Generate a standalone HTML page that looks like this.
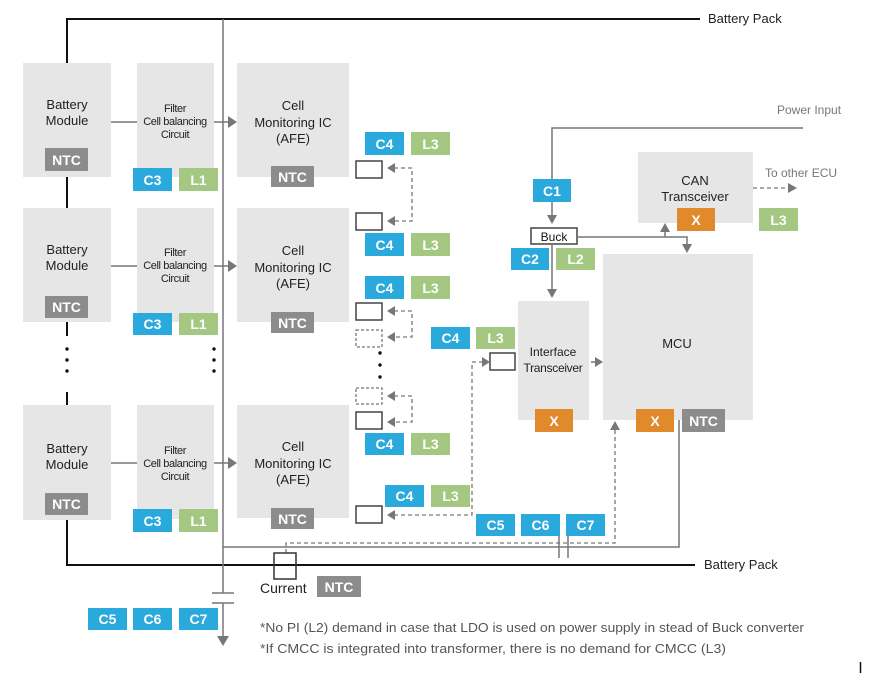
<!DOCTYPE html>
<html><head><meta charset="utf-8"><style>
html,body{margin:0;padding:0;background:#fff;}
svg{display:block;}
text{font-family:"Liberation Sans",sans-serif;}
.lb{font-weight:bold;font-size:14px;fill:#fff;text-anchor:middle;}
.bx{fill:#e6e6e6;}
.t{font-size:13px;fill:#222;text-anchor:middle;}
.f{font-size:11px;fill:#222;text-anchor:middle;letter-spacing:-0.4px;}
.c{fill:#2aa9dd;} .l{fill:#a4c881;} .n{fill:#8c8c8c;} .x{fill:#e08a2b;}
.g{stroke:#777;stroke-width:1.5;fill:none;}
.d{stroke:#777;stroke-width:1.3;fill:none;stroke-dasharray:4,3;}
.k{stroke:#111;stroke-width:2;fill:none;}
.sb{fill:#fff;stroke:#444;stroke-width:1.5;}
.sd{fill:#fff;stroke:#777;stroke-width:1.3;stroke-dasharray:3,2;}
.ah{fill:#777;}
</style></head><body>
<svg width="869" height="673" viewBox="0 0 869 673" xmlns="http://www.w3.org/2000/svg">
<!-- black battery pack lines -->
<polyline class="k" points="67,63 67,19 700,19"/>
<line class="k" x1="67" y1="177" x2="67" y2="208"/>
<line class="k" x1="67" y1="322" x2="67" y2="336"/>
<line class="k" x1="67" y1="392" x2="67" y2="405"/>
<polyline class="k" points="67,520 67,565 695,565"/>
<text x="708" y="23" font-size="13" fill="#222">Battery Pack</text>
<text x="704" y="569" font-size="13" fill="#222">Battery Pack</text>
<!-- dots -->
<g fill="#111"><circle cx="67" cy="349" r="1.7"/><circle cx="67" cy="360" r="1.7"/><circle cx="67" cy="371" r="1.7"/>
<circle cx="214" cy="349" r="1.7"/><circle cx="214" cy="360" r="1.7"/><circle cx="214" cy="371" r="1.7"/>
<circle cx="380" cy="353" r="1.7"/><circle cx="380" cy="365" r="1.7"/><circle cx="380" cy="377" r="1.7"/></g>
<!-- gray vertical -->
<line class="g" x1="223" y1="19" x2="223" y2="593"/>
<line class="g" x1="212" y1="593" x2="234" y2="593"/>
<line class="g" x1="212" y1="603" x2="234" y2="603"/>
<line class="g" x1="223" y1="603" x2="223" y2="637"/>
<polygon class="ah" points="217,636 229,636 223,646"/>
<!-- bottom gray line -->
<polyline class="g" points="223,547 679,547 679,420"/>
<line class="g" x1="559" y1="536" x2="559" y2="558"/>
<line class="g" x1="568" y1="536" x2="568" y2="558"/>
<polyline class="d" points="286,553 286,543 615,543 615,428"/>
<polygon class="ah" points="610,430 620,430 615,421"/>

<!-- rows -->
<g id="r1">
<rect class="bx" x="23" y="63" width="88" height="114"/>
<text class="t" x="67" y="109">Battery</text><text class="t" x="67" y="125">Module</text>
<rect class="n" x="45" y="148" width="43" height="23"/><text class="lb" x="66.5" y="165">NTC</text>
<line class="g" x1="111" y1="122" x2="137" y2="122"/>
<rect class="bx" x="137" y="63" width="77" height="114"/>
<text class="f" x="175" y="112">Filter</text><text class="f" x="175" y="125">Cell balancing</text><text class="f" x="175" y="138">Circuit</text>
<line class="g" x1="214" y1="122" x2="229" y2="122"/><polygon class="ah" points="228,116 228,128 237,122"/>
<rect class="c" x="133" y="168" width="39" height="23"/><text class="lb" x="152.5" y="185">C3</text>
<rect class="l" x="179" y="168" width="39" height="23"/><text class="lb" x="198.5" y="185">L1</text>
<rect class="bx" x="237" y="63" width="112" height="114"/>
<text class="t" x="293" y="110">Cell</text><text class="t" x="293" y="127">Monitoring IC</text><text class="t" x="293" y="143">(AFE)</text>
<rect class="n" x="271" y="166" width="43" height="21"/><text class="lb" x="292.5" y="182">NTC</text>
</g>
<g id="r2">
<rect class="bx" x="23" y="208" width="88" height="114"/>
<text class="t" x="67" y="254">Battery</text><text class="t" x="67" y="270">Module</text>
<rect class="n" x="45" y="296" width="43" height="22"/><text class="lb" x="66.5" y="312">NTC</text>
<line class="g" x1="111" y1="266" x2="137" y2="266"/>
<rect class="bx" x="137" y="208" width="77" height="114"/>
<text class="f" x="175" y="256">Filter</text><text class="f" x="175" y="269">Cell balancing</text><text class="f" x="175" y="282">Circuit</text>
<line class="g" x1="214" y1="266" x2="229" y2="266"/><polygon class="ah" points="228,260 228,272 237,266"/>
<rect class="c" x="133" y="313" width="39" height="22"/><text class="lb" x="152.5" y="329">C3</text>
<rect class="l" x="179" y="313" width="39" height="22"/><text class="lb" x="198.5" y="329">L1</text>
<rect class="bx" x="237" y="208" width="112" height="114"/>
<text class="t" x="293" y="255">Cell</text><text class="t" x="293" y="272">Monitoring IC</text><text class="t" x="293" y="288">(AFE)</text>
<rect class="n" x="271" y="312" width="43" height="21"/><text class="lb" x="292.5" y="328">NTC</text>
</g>
<g id="r3">
<rect class="bx" x="23" y="405" width="88" height="115"/>
<text class="t" x="67" y="453">Battery</text><text class="t" x="67" y="469">Module</text>
<rect class="n" x="45" y="493" width="43" height="22"/><text class="lb" x="66.5" y="509">NTC</text>
<line class="g" x1="111" y1="463" x2="137" y2="463"/>
<rect class="bx" x="137" y="405" width="77" height="114"/>
<text class="f" x="175" y="454">Filter</text><text class="f" x="175" y="467">Cell balancing</text><text class="f" x="175" y="480">Circuit</text>
<line class="g" x1="214" y1="463" x2="229" y2="463"/><polygon class="ah" points="228,457 228,469 237,463"/>
<rect class="c" x="133" y="509" width="39" height="23"/><text class="lb" x="152.5" y="526">C3</text>
<rect class="l" x="179" y="509" width="39" height="23"/><text class="lb" x="198.5" y="526">L1</text>
<rect class="bx" x="237" y="405" width="112" height="113"/>
<text class="t" x="293" y="451">Cell</text><text class="t" x="293" y="468">Monitoring IC</text><text class="t" x="293" y="484">(AFE)</text>
<rect class="n" x="271" y="508" width="43" height="21"/><text class="lb" x="292.5" y="524">NTC</text>
</g>

<!-- C4/L3 pairs -->
<rect class="c" x="365" y="132" width="39" height="23"/><text class="lb" x="384.5" y="149">C4</text>
<rect class="l" x="411" y="132" width="39" height="23"/><text class="lb" x="430.5" y="149">L3</text>
<rect class="c" x="365" y="233" width="39" height="23"/><text class="lb" x="384.5" y="250">C4</text>
<rect class="l" x="411" y="233" width="39" height="23"/><text class="lb" x="430.5" y="250">L3</text>
<rect class="c" x="365" y="276" width="39" height="23"/><text class="lb" x="384.5" y="293">C4</text>
<rect class="l" x="411" y="276" width="39" height="23"/><text class="lb" x="430.5" y="293">L3</text>
<rect class="c" x="365" y="433" width="39" height="22"/><text class="lb" x="384.5" y="449">C4</text>
<rect class="l" x="411" y="433" width="39" height="22"/><text class="lb" x="430.5" y="449">L3</text>
<rect class="c" x="385" y="485" width="39" height="22"/><text class="lb" x="404.5" y="501">C4</text>
<rect class="l" x="431" y="485" width="39" height="22"/><text class="lb" x="450.5" y="501">L3</text>
<rect class="c" x="431" y="327" width="39" height="22"/><text class="lb" x="450.5" y="343">C4</text>
<rect class="l" x="476" y="327" width="39" height="22"/><text class="lb" x="495.5" y="343">L3</text>

<!-- small boxes -->
<rect class="sb" x="356" y="161" width="26" height="17"/>
<rect class="sb" x="356" y="213" width="26" height="17"/>
<rect class="sb" x="356" y="303" width="26" height="17"/>
<rect class="sd" x="356" y="330" width="26" height="17"/>
<rect class="sd" x="356" y="388" width="26" height="16"/>
<rect class="sb" x="356" y="412" width="26" height="17"/>
<rect class="sb" x="356" y="506" width="26" height="17"/>
<rect class="sb" x="490" y="353" width="25" height="17"/>
<!-- dashed connectors -->
<polyline class="d" points="394,168 412,168 412,221 394,221"/>
<polygon class="ah" points="387,168 395,163 395,173"/><polygon class="ah" points="387,221 395,216 395,226"/>
<polyline class="d" points="394,311 412,311 412,337 394,337"/>
<polygon class="ah" points="387,311 395,306 395,316"/><polygon class="ah" points="387,337 395,332 395,342"/>
<polyline class="d" points="394,396 412,396 412,422 394,422"/>
<polygon class="ah" points="387,396 395,391 395,401"/><polygon class="ah" points="387,422 395,417 395,427"/>
<polyline class="d" points="394,515 472,515 472,362 482,362"/>
<polygon class="ah" points="387,515 395,510 395,520"/><polygon class="ah" points="490,362 482,357 482,367"/>

<!-- power / buck -->
<text x="777" y="114" font-size="12" fill="#777">Power Input</text>
<polyline class="g" points="803,128 552,128 552,216"/>
<polygon class="ah" points="547,215 557,215 552,224"/>
<rect class="c" x="533" y="179" width="38" height="23"/><text class="lb" x="552" y="196">C1</text>
<rect class="sb" x="531" y="228" width="46" height="16" stroke="#222"/><text x="554" y="241" font-size="12" fill="#111" text-anchor="middle">Buck</text>
<line class="g" x1="552" y1="244" x2="552" y2="290"/>
<polygon class="ah" points="547,289 557,289 552,298"/>
<rect class="c" x="511" y="248" width="38" height="22"/><text class="lb" x="530" y="264">C2</text>
<rect class="l" x="556" y="248" width="39" height="22"/><text class="lb" x="575.5" y="264">L2</text>
<polyline class="g" points="577,237 687,237 687,245"/>
<polygon class="ah" points="682,244 692,244 687,253"/>
<line class="g" x1="665" y1="237" x2="665" y2="231"/>
<polygon class="ah" points="660,232 670,232 665,223"/>
<!-- CAN -->
<rect class="bx" x="638" y="152" width="115" height="71"/>
<text class="t" x="695" y="185">CAN</text><text class="t" x="695" y="201">Transceiver</text>
<rect class="x" x="677" y="208" width="38" height="23"/><text class="lb" x="696" y="225">X</text>
<text x="765" y="177" font-size="12" fill="#777">To other ECU</text>
<line class="d" x1="753" y1="188" x2="789" y2="188"/>
<polygon class="ah" points="797,188 788,183 788,193"/>
<rect class="l" x="759" y="208" width="39" height="23"/><text class="lb" x="778.5" y="225">L3</text>
<!-- MCU -->
<rect class="bx" x="603" y="254" width="150" height="166"/>
<text class="t" x="677" y="348">MCU</text>
<rect class="x" x="636" y="409" width="38" height="23"/><text class="lb" x="655" y="426">X</text>
<rect class="n" x="682" y="409" width="43" height="23"/><text class="lb" x="703.5" y="426">NTC</text>
<!-- Interface -->
<rect class="bx" x="518" y="301" width="71" height="119"/>
<text x="553" y="356" font-size="12" fill="#222" text-anchor="middle">Interface</text>
<text x="553" y="372" font-size="12" fill="#222" text-anchor="middle" letter-spacing="-0.3">Transceiver</text>
<rect class="x" x="535" y="409" width="38" height="23"/><text class="lb" x="554" y="426">X</text>
<line class="g" x1="591" y1="362" x2="596" y2="362"/>
<polygon class="ah" points="595,357 595,367 603,362"/>
<!-- C5 C6 C7 -->
<rect class="c" x="476" y="514" width="39" height="22"/><text class="lb" x="495.5" y="530">C5</text>
<rect class="c" x="521" y="514" width="39" height="22"/><text class="lb" x="540.5" y="530">C6</text>
<rect class="c" x="566" y="514" width="39" height="22"/><text class="lb" x="585.5" y="530">C7</text>
<rect class="c" x="88" y="608" width="39" height="22"/><text class="lb" x="107.5" y="624">C5</text>
<rect class="c" x="133" y="608" width="39" height="22"/><text class="lb" x="152.5" y="624">C6</text>
<rect class="c" x="179" y="608" width="39" height="22"/><text class="lb" x="198.5" y="624">C7</text>
<!-- current -->
<rect x="274" y="553" width="22" height="26" fill="none" stroke="#333" stroke-width="1.5"/>
<text x="260" y="593" font-size="14" fill="#222">Current</text>
<rect class="n" x="317" y="576" width="44" height="21"/><text class="lb" x="339" y="592">NTC</text>
<!-- footnotes -->
<text x="260" y="632" font-size="13" fill="#555" textLength="544" lengthAdjust="spacingAndGlyphs">*No PI (L2) demand in case that LDO is used on power supply in stead of Buck converter</text>
<text x="260" y="653" font-size="13" fill="#555" textLength="466" lengthAdjust="spacingAndGlyphs">*If CMCC is integrated into transformer, there is no demand for CMCC (L3)</text>
<line x1="860.5" y1="662" x2="860.5" y2="673" stroke="#111" stroke-width="1.5"/>
</svg>
</body></html>
